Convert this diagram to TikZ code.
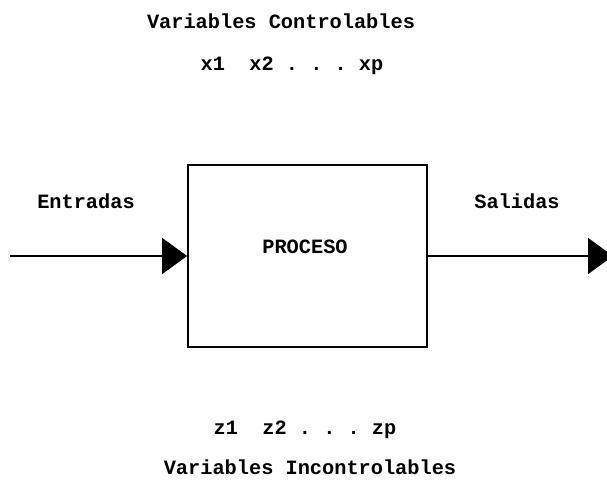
\documentclass[tikz,border=0pt]{standalone}
\usepackage{fontspec}
\setmonofont{Liberation Mono}
\usetikzlibrary{arrows.meta}
\tikzset{
  etiqueta/.style={font=\ttfamily\bfseries\fontsize{20.3}{24}\selectfont, inner sep=0pt},
  flecha/.style={line width=1.4pt, -{Triangle[length=25pt,width=36pt]}}
}
\begin{document}
\begin{tikzpicture}[x=1pt,y=-1pt]
  \useasboundingbox (0,0) rectangle (607,483);
  % bloque del proceso
  \node[draw, line width=1.8pt, minimum width=239pt, minimum height=182pt] (proceso) at (307.5,256) {};
  \node[etiqueta] (ptexto) at (305,247) {PROCESO};
  % variables arriba y abajo
  \node[etiqueta] (vcontrol) at (281,21) {Variables Controlables};
  \node[etiqueta] (xs) at (292,66) {x1\ \ x2 . . . xp};
  \node[etiqueta] (zs) at (305,430) {z1\ \ z2 . . . zp};
  \node[etiqueta] (vincontrol) at (310,467) {Variables Incontrolables};
  % entradas y salidas
  \node[etiqueta] (entradas) at (86,201) {Entradas};
  \node[etiqueta] (salidas) at (517,201) {Salidas};
  \coordinate (inicio) at (10,256);
  \coordinate (fin) at (613,256);
  \draw[flecha] (inicio) -- (proceso.west);
  \draw[flecha] (proceso.east) -- (fin);
\end{tikzpicture}
\end{document}
